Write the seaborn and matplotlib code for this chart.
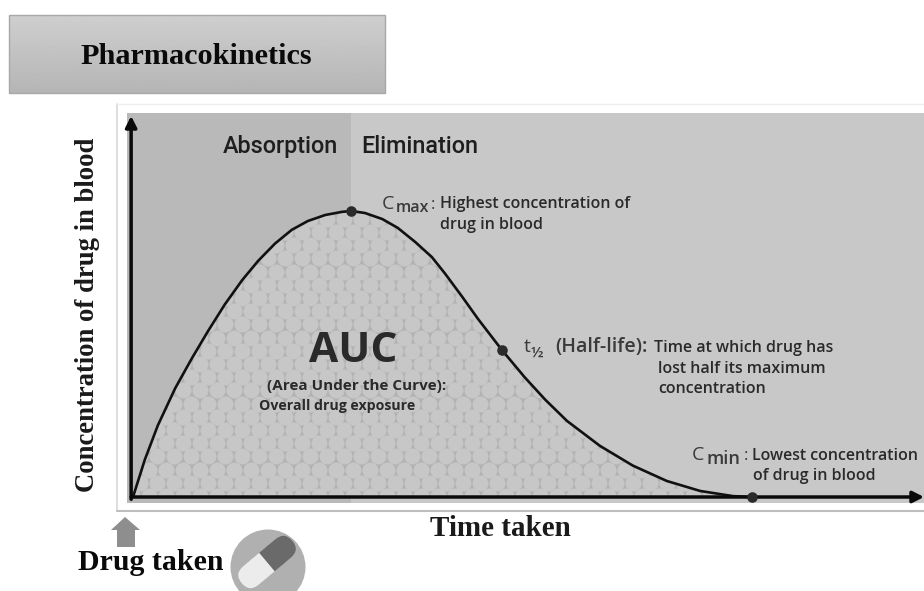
import numpy as np
import pandas as pd
import matplotlib
matplotlib.use("Agg")
import matplotlib.pyplot as plt
import seaborn as sns
from matplotlib.patches import Rectangle, Circle, Polygon, FancyBboxPatch

# ---- data (time in arbitrary units, concentration in % of Cmax)
time = [0, .19, .40, .68, .95, 1.21, 1.48, 1.76, 2.02, 2.29, 2.56, 2.82, 3.10, 3.37, 3.52, 3.74, 4.02,
        4.27, 4.55, 4.82, 5.03, 5.31, 5.56, 5.95, 6.32, 6.65, 7.00, 7.53, 8.06, 8.61, 9.15, 9.68, 9.98]
conc = [0, 13, 25, 38, 48.5, 58, 67.3, 75.8, 82.6, 88.6, 93.4, 96.5, 98.6, 99.7, 100, 99.3, 97.2,
        94.1, 89.2, 83.9, 78.2, 70, 62.4, 51.4, 41.8, 34, 26.6, 17.9, 11, 5.6, 2.1, .3, 0]
key_t = [3.52, 5.95, 9.98]
key_c = [100, 51.4, 0]
regions = ["Absorption", "Elimination"]

W, H = 924, 591
sns.set_theme(style="white")
NARROW = "Roboto"
SERIF = "Liberation Serif"
SANS = "Open Sans"

fig = plt.figure(figsize=(W / 100, H / 100), dpi=100, facecolor="white")

# background overlay in pixel space
bg = fig.add_axes([0, 0, 1, 1], zorder=0)
grad = np.linspace(0.81, 0.71, 64).reshape(-1, 1)
bg.imshow(grad, extent=(9, 385, 93, 15), cmap="gray", vmin=0, vmax=1, aspect="auto", zorder=1)
bg.set_xlim(0, W); bg.set_ylim(H, 0); bg.axis("off")
bg.add_patch(Rectangle((9, 15), 376, 78, fill=False, ec="#a8a8a8", lw=1, zorder=2))
bg.text(196, 57, "Pharmacokinetics", family=SERIF, weight="bold", fontsize=21.8, ha="center", va="center", color="#0a0a0a")

# panel frame with soft shadow
bg.plot([117, 117], [104, 511], color="#d8d8d8", lw=1.2, zorder=2)
bg.plot([117, 924], [104, 104], color="#eeeeee", lw=1, zorder=2)
bg.plot([117, 924], [511, 511], color="#bdbdbd", lw=1.5, zorder=2)

# main chart axes
PX0, PX1, PY0, PY1 = 127, 924, 113, 503
ax = fig.add_axes([PX0 / W, 1 - PY1 / H, (PX1 - PX0) / W, (PY1 - PY0) / H], zorder=1)
ppx = 62.0
ppy = 2.86
ax.set_xlim((PX0 - 133) / ppx, (PX1 - 133) / ppx)
ax.set_ylim((497 - PY1) / ppy, (497 - PY0) / ppy)
ax.axvspan(ax.get_xlim()[0], key_t[0], color="#b9b9b9", lw=0, zorder=0)
ax.axvspan(key_t[0], ax.get_xlim()[1], color="#c8c8c8", lw=0, zorder=0)

curve = pd.DataFrame({"time": time, "conc": conc})

ax.fill_between(time, 0, conc, color="#b2b2b2", lw=0, zorder=1)
clip = Polygon(np.c_[time, conc], closed=True, transform=ax.transData, fc="none", ec="none")
ax.add_patch(clip)
# circle texture on a hexagonal lattice, spaced in pixels
lat_x, lat_y = [], []
for r, yy in enumerate(np.arange(496, 205, -13.2)):
    for xx in np.arange(131.5 + (8.5 if r % 2 else 0), 760, 17.0):
        lat_x.append((xx - 133) / ppx)
        lat_y.append((497 - yy) / ppy)
tex = ax.scatter(lat_x, lat_y, s=(16.0 * 0.72) ** 2, c="#c7c7c7", lw=0, zorder=2)
tex.set_clip_path(clip)

sns.lineplot(data=curve, x="time", y="conc", ax=ax, color="#111111", lw=1.9, zorder=4,
             errorbar=None, estimator=None, sort=False)
head = dict(arrowstyle="-|>,head_length=0.55,head_width=0.28", color="#0a0a0a", lw=2.5, shrinkA=0, shrinkB=0)
ax.annotate("", xy=(ax.get_xlim()[1], 0), xytext=(-0.03, 0), zorder=5, arrowprops=head)
ax.annotate("", xy=(-0.03, (497 - 116) / ppy), xytext=(-0.03, -0.8), zorder=5, arrowprops=head)
sns.scatterplot(x=key_t, y=key_c, ax=ax, s=58, color="#2b2b2b", lw=0, zorder=6, clip_on=False)
ax.set_xlabel(""); ax.set_ylabel("")
ax.axis("off")

# overlay for text in pixel space
ov = fig.add_axes([0, 0, 1, 1], zorder=3)
ov.set_xlim(0, W); ov.set_ylim(H, 0); ov.axis("off")
ov.patch.set_alpha(0)

ov.text(280, 153, regions[0], family=NARROW, fontsize=16.8, weight="medium", ha="center", va="baseline", color="#1e1e1e")
ov.text(420, 153, regions[1], family=NARROW, fontsize=16.8, weight="medium", ha="center", va="baseline", color="#1e1e1e")

ann = dict(family=SANS, weight="semibold", color="#2a2a2a", va="center")
sym = dict(family=SANS, color="#3a3a3a", va="center")
ov.text(382, 204, "C", fontsize=14, **sym)
ov.text(396, 208, "max", fontsize=11.5, **{**sym, "weight": "semibold"})
ov.text(431, 205, ":", fontsize=12, **sym)
ov.text(440, 204, "Highest concentration of", fontsize=11.5, **ann)
ov.text(440, 225, "drug in blood", fontsize=11.5, **ann)

ov.text(524, 347, "t", fontsize=14, **sym)
ov.text(531, 353, "½", fontsize=11, **{**sym, "weight": "semibold"})
ov.text(555, 347, "(Half-life):", fontsize=14, **{**sym, "weight": "semibold"})
ov.text(654, 348, "Time at which drug has", fontsize=11.5, **ann)
ov.text(658, 369, "lost half its maximum", fontsize=11.5, **ann)
ov.text(658, 389, "concentration", fontsize=11.5, **ann)

ov.text(692, 455, "C", fontsize=14, **sym)
ov.text(706, 459, "min", fontsize=13, **{**sym, "weight": "semibold"})
ov.text(744, 456, ":", fontsize=12, **sym)
ov.text(752, 456, "Lowest concentration", fontsize=11.5, **ann)
ov.text(753, 476, "of drug in blood", fontsize=11.5, **ann)

ov.text(353, 351, "AUC", family=SANS, weight="bold", fontsize=30.5, ha="center", va="center", color="#2a2a2a")
ov.text(357, 386, "(Area Under the Curve):", family=SANS, weight="bold", fontsize=11, ha="center", va="center", color="#2a2a2a")
ov.text(337, 406, "Overall drug exposure", family=SANS, weight="bold", fontsize=10.2, ha="center", va="center", color="#2a2a2a")

ov.text(500, 529, "Time taken", family=SERIF, weight="bold", fontsize=21, ha="center", va="center", color="#1a1a1a")
ov.text(88, 315, "Concentration of drug in blood", family=SERIF, weight="bold", fontsize=19.2, rotation=90, ha="center", va="center", color="#1a1a1a")
ov.text(151, 563, "Drug taken", family=SERIF, weight="bold", fontsize=21.5, ha="center", va="center", color="#0a0a0a")

# drug-taken arrow
ov.add_patch(Polygon([(125, 517), (111, 530), (117, 530), (117, 547), (135, 547), (135, 530), (140, 530)],
                     closed=True, fc="#8e8e8e", ec="none"))
# pill icon
ov.add_patch(Circle((268, 567), 37.5, fc="#b0b0b0", ec="none"))
t = matplotlib.transforms.Affine2D().rotate_deg_around(267, 562, -40) + ov.transData
ov.add_patch(FancyBboxPatch((234, 550), 33, 24, boxstyle="round,pad=0,rounding_size=12", fc="#ececec", ec="none", transform=t))
ov.add_patch(FancyBboxPatch((267, 550), 33, 24, boxstyle="round,pad=0,rounding_size=12", fc="#6a6a6a", ec="none", transform=t))
ov.add_patch(Rectangle((255, 550), 12, 24, fc="#ececec", ec="none", transform=t))
ov.add_patch(Rectangle((267, 550), 12, 24, fc="#6a6a6a", ec="none", transform=t))

fig.savefig("out.png", dpi=100)
